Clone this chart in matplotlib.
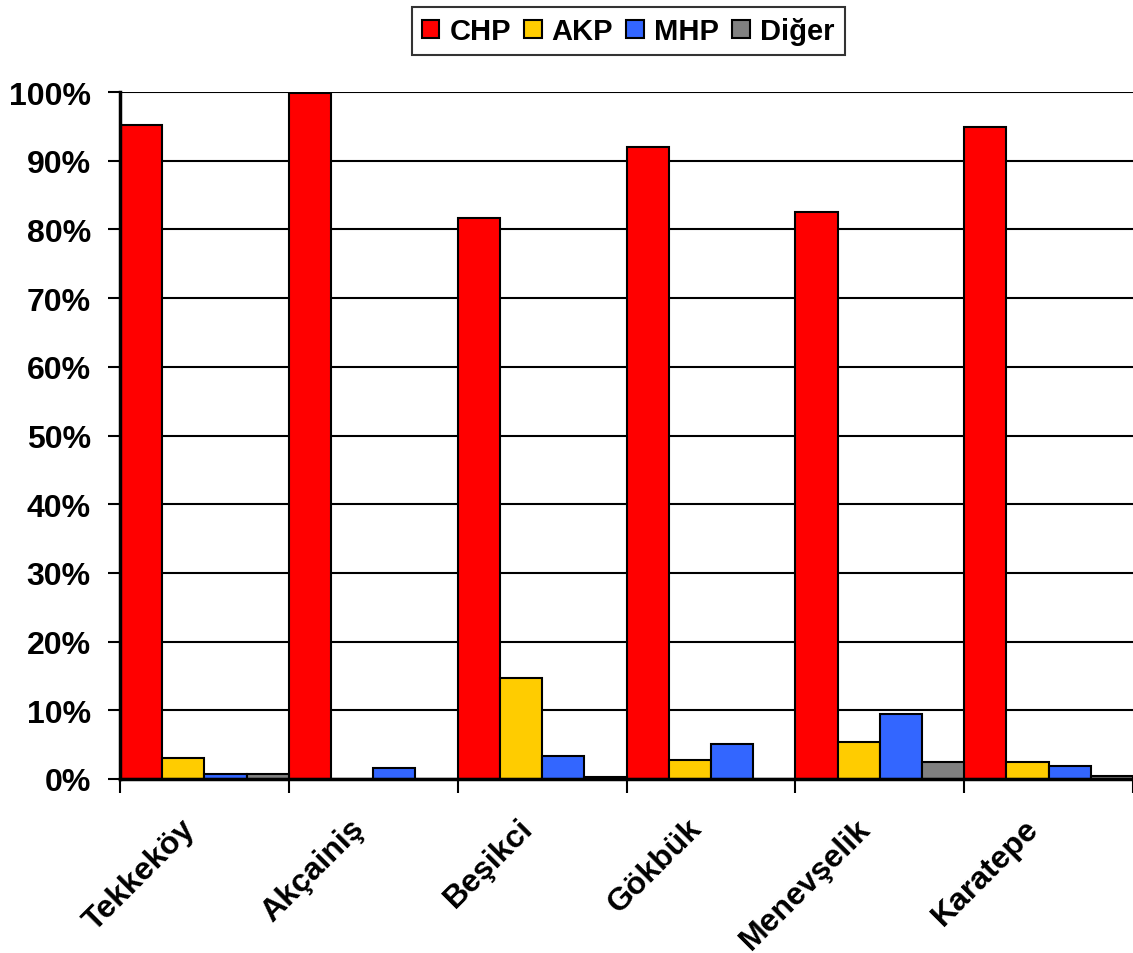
import numpy as np
import matplotlib.pyplot as plt
import matplotlib.transforms as mtransforms
from matplotlib.ticker import FuncFormatter, FixedLocator

# Koy bazinda oy oranlari (%)
koyler = ["Tekkeköy", "Akçainiş", "Beşikci", "Gökbük", "Menevşelik", "Karatepe"]
chp = [95.2, 99.8, 81.7, 92.0, 82.5, 94.9]
akp = [3.1, 0.0, 14.7, 2.8, 5.4, 2.5]
mhp = [0.7, 1.65, 3.4, 5.1, 9.5, 1.9]
diger = [0.7, 0.0, 0.25, 0.0, 2.5, 0.5]

partiler = ["CHP", "AKP", "MHP", "Diğer"]
renkler = ["#FF0000", "#FFCC00", "#3366FF", "#808080"]

plt.rcParams['font.family'] = ['Liberation Sans', 'DejaVu Sans']
plt.rcParams['font.weight'] = 'bold'

fig = plt.figure(figsize=(11.33, 9.54), dpi=100)
ax = fig.add_axes([120/1133, 174/954, 1013/1133, 687/954])

seriler = [chp, akp, mhp, diger]
x = np.arange(len(koyler))
w = 0.25
for i, (ad, vals, c) in enumerate(zip(partiler, seriler, renkler)):
    ax.bar(x + i*w, vals, width=w, align='edge', color=c, edgecolor='black',
           linewidth=1.5, label=ad, zorder=3)

ax.set_xlim(0, len(koyler))
ax.set_ylim(0, 100)
ax.set_yticks(np.arange(0, 101, 10))
ax.yaxis.set_major_formatter(FuncFormatter(lambda v, p: "%d%%" % v))
ax.grid(axis='y', color='black', linewidth=1.5, zorder=0)

# kategori sinirlarinda tick, etiketler ortada
ax.set_xticks(x + 0.5)
ax.set_xticklabels(koyler, rotation=45, ha='right', va='center', rotation_mode='anchor')
ax.xaxis.set_minor_locator(FixedLocator(np.arange(0, len(koyler) + 1)))
ax.tick_params(axis='x', which='major', length=0, pad=32, labelsize=23)
ax.tick_params(axis='x', which='minor', length=10, width=1.5)
ax.tick_params(axis='y', length=9, width=1.5, labelsize=23, pad=12)
kaydir = mtransforms.ScaledTranslation(-14/100, 0, fig.dpi_scale_trans)
for lbl in ax.get_xticklabels():
    lbl.set_fontweight('bold')
    lbl.set_transform(lbl.get_transform() + kaydir)
for lbl in ax.get_yticklabels():
    lbl.set_fontweight('bold')

for s in ['top', 'right']:
    ax.spines[s].set_visible(False)
for s in ['left', 'bottom']:
    ax.spines[s].set_linewidth(2.5)
    ax.spines[s].set_zorder(4)

leg = fig.legend(loc='upper center', bbox_to_anchor=(628/1133, 1 - 8/954), ncol=4,
                 fontsize=21, frameon=True, fancybox=False, edgecolor='black',
                 handlelength=0.6, handleheight=0.6, handletextpad=0.35,
                 columnspacing=0.45, borderpad=0.35, borderaxespad=0)
leg.get_frame().set_linewidth(1.5)
for h in leg.legend_handles:
    h.set_linewidth(1.5)

fig.savefig("out.png", dpi=100)
